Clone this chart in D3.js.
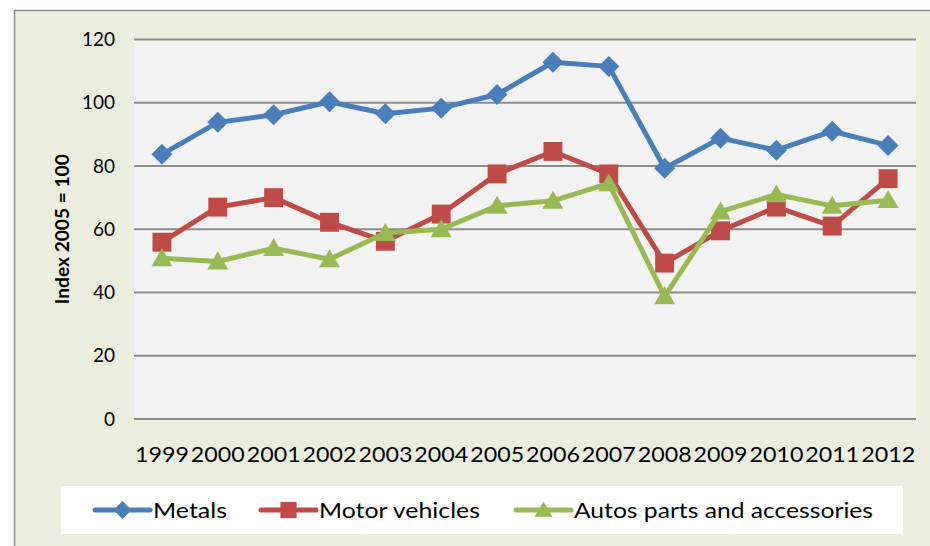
<!DOCTYPE html>
<html>
<head>
<meta charset="utf-8">
<script src="https://cdn.jsdelivr.net/npm/d3@7"></script>
<style>
  body { margin: 0; background: #ffffff; }
  svg { display: block; }
</style>
</head>
<body>
<div id="chart"></div>
<script>
var years = ["1999", "2000", "2001", "2002", "2003", "2004", "2005", "2006", "2007", "2008", "2009", "2010", "2011", "2012"];
var metals = [83.7, 93.8, 96.2, 100.3, 96.5, 98.3, 102.6, 112.8, 111.5, 79.3, 88.8, 85.0, 91.0, 86.5];
var motorVehicles = [55.9, 67.0, 70.0, 62.2, 56.2, 64.8, 77.5, 84.6, 77.5, 49.3, 59.5, 67.0, 61.0, 76.0];
var autoParts = [50.8, 49.8, 54.0, 50.5, 58.8, 60.0, 67.4, 69.0, 74.5, 38.8, 65.6, 71.0, 67.4, 69.2];
var yTicks = [0, 20, 40, 60, 80, 100, 120];
var seriesNames = ["Metals", "Motor vehicles", "Autos parts and accessories"];

var series = [
    { name: seriesNames[0], values: metals, color: "#4a7ebb", symbol: "diamond" },
    { name: seriesNames[1], values: motorVehicles, color: "#be4b48", symbol: "square" },
    { name: seriesNames[2], values: autoParts, color: "#98b954", symbol: "triangle" }
];

var width = 930, height = 546;
var plot = { left: 134, right: 916, top: 39.5, bottom: 419 };
var font = "Lato, 'Open Sans', sans-serif";

var svg = d3.select("#chart")
  .append("svg")
    .attr("width", width)
    .attr("height", height);

// outer chart area
svg.append("rect")
    .attr("x", 14.5).attr("y", 10.5)
    .attr("width", 930).attr("height", 560)
    .style("fill", "#ebeedf")
    .style("stroke", "#8a8a8a")
    .style("stroke-width", 1.5);

// plot area
svg.append("rect")
    .attr("x", plot.left).attr("y", plot.top)
    .attr("width", plot.right - plot.left).attr("height", plot.bottom - plot.top)
    .style("fill", "#f2f2f2");

var x = d3.scaleBand()
    .domain(years)
    .range([plot.left, plot.right]);

var y = d3.scaleLinear()
    .domain([0, 120])
    .range([plot.bottom, plot.top]);

// gridlines
svg.append("g")
    .selectAll("line")
    .data(yTicks)
    .enter()
    .append("line")
        .attr("x1", plot.left).attr("x2", plot.right)
        .attr("y1", function(d) { return y(d); })
        .attr("y2", function(d) { return y(d); })
        .style("stroke", "#8c8c8c")
        .style("stroke-width", 1.8);

// y tick labels
svg.append("g")
    .selectAll("text")
    .data(yTicks)
    .enter()
    .append("text")
        .attr("x", 115)
        .attr("y", function(d) { return y(d); })
        .attr("dy", "0.35em")
        .attr("text-anchor", "end")
        .style("font-family", font)
        .style("font-size", "19px")
        .style("fill", "#000")
        .text(function(d) { return d; });

// x tick labels
svg.append("g")
    .selectAll("text")
    .data(years)
    .enter()
    .append("text")
        .attr("x", function(d) { return x(d) + 1; })
        .attr("y", 462)
        .attr("textLength", 54)
        .attr("lengthAdjust", "spacingAndGlyphs")
        .style("font-family", font)
        .style("font-size", "22px")
        .style("fill", "#000")
        .text(function(d) { return d; });

// y axis title
svg.append("text")
    .attr("transform", "translate(69," + ((plot.top + plot.bottom) / 2) + ") rotate(-90)")
    .attr("text-anchor", "middle")
    .attr("textLength", 150)
    .attr("lengthAdjust", "spacingAndGlyphs")
    .style("font-family", font)
    .style("font-weight", "bold")
    .style("font-size", "18px")
    .style("fill", "#000")
    .text("Index 2005 = 100");

var symbolPath = function(type, size) {
    var h = size / 2;
    if (type == "diamond") return "M0," + (-h) + "L" + h + ",0L0," + h + "L" + (-h) + ",0Z";
    if (type == "square") return "M" + (-h * 0.9) + "," + (-h * 0.9) + "h" + (h * 1.8) + "v" + (h * 1.8) + "h" + (-h * 1.8) + "Z";
    return "M0," + (-h * 0.95) + "L" + (h) + "," + (h * 0.75) + "L" + (-h) + "," + (h * 0.75) + "Z";
};

var line = d3.line()
    .x(function(d, i) { return x(years[i]) + x.bandwidth() / 2; })
    .y(function(d) { return y(d); });

var groups = svg.selectAll(".series")
    .data(series)
    .enter()
    .append("g")
        .attr("class", "series");

groups.append("path")
    .attr("d", function(d) { return line(d.values); })
    .style("fill", "none")
    .style("stroke", function(d) { return d.color; })
    .style("stroke-width", 5)
    .style("stroke-linejoin", "round");

groups.selectAll(".marker")
    .data(function(d) { return d.values.map(function(v, i) { return { v: v, i: i, s: d }; }); })
    .enter()
    .append("path")
        .attr("class", "marker")
        .attr("transform", function(d) {
            return "translate(" + (x(years[d.i]) + x.bandwidth() / 2) + "," + y(d.v) + ")";
        })
        .attr("d", function(d) { return symbolPath(d.s.symbol, 21); })
        .style("fill", function(d) { return d.s.color; });

// legend
var legend = svg.append("g");
legend.append("rect")
    .attr("x", 61).attr("y", 486)
    .attr("width", 842).attr("height", 48)
    .style("fill", "#ffffff");

var legendX = [95, 261, 516];
var legendTextW = [74, 161, 299];

var items = legend.selectAll(".item")
    .data(series)
    .enter()
    .append("g")
        .attr("class", "item")
        .attr("transform", function(d, i) { return "translate(" + legendX[i] + ",510)"; });

items.append("line")
    .attr("x1", 0).attr("x2", 55)
    .style("stroke", function(d) { return d.color; })
    .style("stroke-width", 5)
    .style("stroke-linecap", "round");

items.append("path")
    .attr("transform", "translate(27.5,0)")
    .attr("d", function(d) { return symbolPath(d.symbol, 18); })
    .style("fill", function(d) { return d.color; });

items.append("text")
    .attr("x", 58)
    .attr("dy", "0.35em")
    .attr("textLength", function(d, i) { return legendTextW[i]; })
    .attr("lengthAdjust", "spacingAndGlyphs")
    .style("font-family", font)
    .style("font-size", "22px")
    .style("fill", "#000")
    .text(function(d) { return d.name; });
</script>
</body>
</html>
